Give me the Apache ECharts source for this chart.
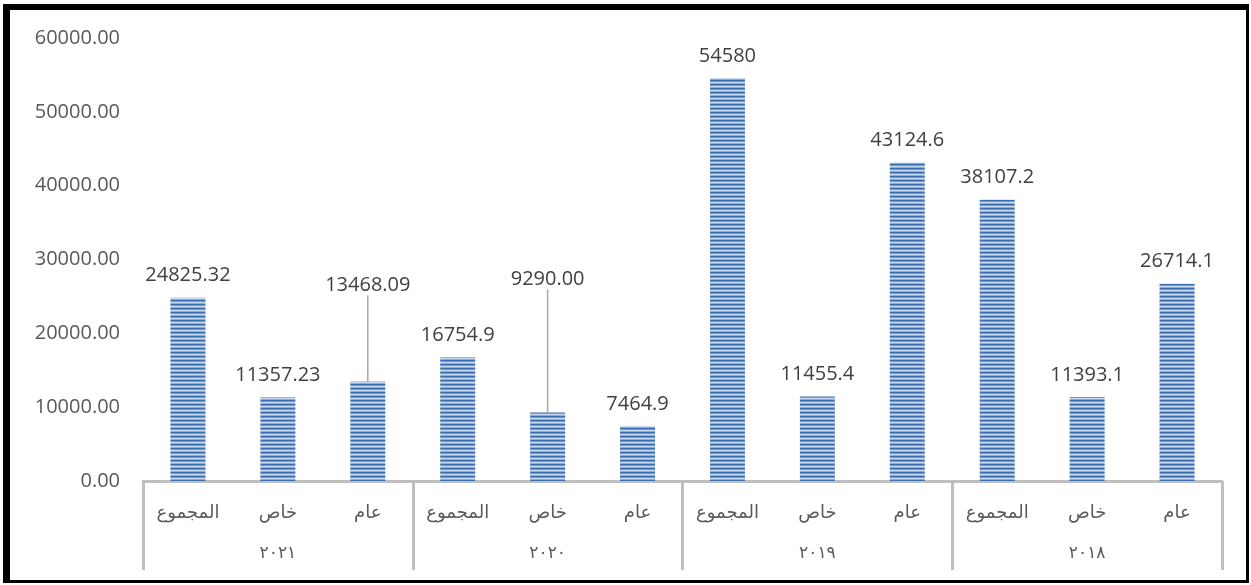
<!DOCTYPE html>
<html>
<head>
<meta charset="utf-8">
<script src="https://cdn.jsdelivr.net/npm/echarts@6/dist/echarts.min.js"></script>
<style>
  html, body { margin: 0; padding: 0; background: #fff; }
  #frame { position: absolute; left: 3px; top: 4px; width: 1236px; height: 570px;
           border-left: 7px solid #000; border-top: 6px solid #000; border-right: 3px solid #000; border-bottom: 3px solid #000; }
  #chart { position: absolute; left: 0; top: 0; width: 1251px; height: 585px; }
</style>
</head>
<body>
<div id="frame"></div>
<div id="chart"></div>
<script>
// ---- data ----
const years = ['٢٠٢١', '٢٠٢٠', '٢٠١٩', '٢٠١٨'];
const subCategories = ['المجموع', 'خاص', 'عام'];
const values = [24825.32, 11357.23, 13468.09, 16754.9, 9290.00, 7464.9, 54580, 11455.4, 43124.6, 38107.2, 11393.1, 26714.1];
const valueLabels = ['24825.32', '11357.23', '13468.09', '16754.9', '9290.00', '7464.9', '54580', '11455.4', '43124.6', '38107.2', '11393.1', '26714.1'];
const yTicks = [0, 10000, 20000, 30000, 40000, 50000, 60000];
// labels lifted with a leader line: index -> lift in px
const liftedLabels = { 2: -66, 4: -103 };

const categories = [];
years.forEach(() => subCategories.forEach(c => categories.push(c)));

// striped pattern
const pc = document.createElement('canvas');
pc.width = 4; pc.height = 4;
const pctx = pc.getContext('2d');
const stripe = ['#3c6fb0', '#6f98ce', '#c9daf0', '#8aaedb'];
stripe.forEach((c, i) => { pctx.fillStyle = c; pctx.fillRect(0, i, 4, 1); });

const chart = echarts.init(document.getElementById('chart'), null, { renderer: 'canvas' });
const textFont = "'Open Sans', 'DejaVu Sans', sans-serif";
const arabicFont = "'DejaVu Sans', sans-serif";

chart.setOption({
  animation: false,
  grid: { left: 143, right: 29, top: 38, bottom: 104, containLabel: false },
  xAxis: [
    {
      type: 'category', data: categories, position: 'bottom',
      axisLine: { show: true, lineStyle: { color: '#bfbfbf', width: 3 } },
      axisTick: { show: false },
      axisLabel: { color: '#595959', fontSize: 18, fontFamily: arabicFont, margin: 23, interval: 0 },
      splitLine: { show: false }
    },
    {
      type: 'category', data: years, position: 'bottom',
      axisLine: { show: false },
      axisTick: { show: true, length: 89, lineStyle: { color: '#bfbfbf', width: 3 } },
      axisLabel: { color: '#595959', fontSize: 17, fontFamily: arabicFont, margin: 64, interval: 0 },
      splitLine: { show: false }
    }
  ],
  yAxis: {
    type: 'value', min: yTicks[0], max: yTicks[yTicks.length - 1], interval: yTicks[1] - yTicks[0],
    axisLine: { show: false }, axisTick: { show: false }, splitLine: { show: false },
    axisLabel: { color: '#595959', fontSize: 20, fontFamily: textFont, margin: 23,
                 formatter: v => v.toFixed(2) }
  },
  series: [{
    type: 'bar',
    xAxisIndex: 0,
    barWidth: 35,
    data: values.map((v, i) => {
      const item = { value: v };
      if (liftedLabels[i] !== undefined) {
        item.labelLine = { show: true, lineStyle: { color: '#a6a6a6', width: 1.5 } };
        item.label = { padding: [0, 0, 8, 0] };
      }
      return item;
    }),
    itemStyle: { color: { image: pc, repeat: 'repeat' } },
    label: {
      show: true, position: 'top', distance: 12,
      color: '#404040', fontSize: 20, fontFamily: textFont,
      formatter: p => valueLabels[p.dataIndex]
    },
    labelLayout: p => (liftedLabels[p.dataIndex] !== undefined ? { dy: liftedLabels[p.dataIndex] } : {}),
    labelLine: { show: false }
  }]
});
</script>
</body>
</html>
